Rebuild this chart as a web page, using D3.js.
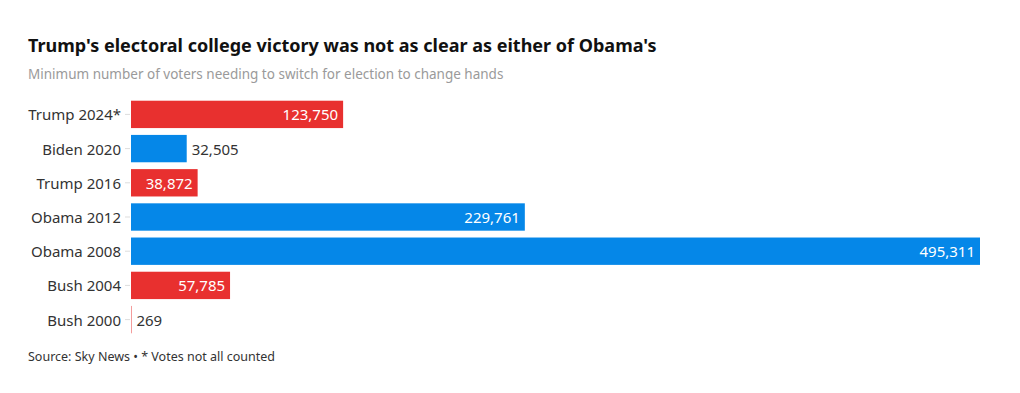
<!DOCTYPE html>
<html>
<head>
<meta charset="utf-8">
<script src="https://d3js.org/d3.v7.min.js"></script>
<style>
  body { margin: 0; background: #fff; font-family: "Noto Sans", "Open Sans", sans-serif; }
</style>
</head>
<body>
<script>
var labels = ["Trump 2024*", "Biden 2020", "Trump 2016", "Obama 2012", "Obama 2008", "Bush 2004", "Bush 2000"];
var values = [123750, 32505, 38872, 229761, 495311, 57785, 269];
var parties = ["rep", "dem", "rep", "dem", "dem", "rep", "rep"];
var partyColours = { rep: "#e8302f", dem: "#0587e8" };

var chartW = 1020, chartH = 393;
var plotLeft = 131, plotRight = 980, plotTop = 99, plotBottom = 335;

var svg = d3.select("body").append("svg")
  .attr("width", chartW)
  .attr("height", chartH);

svg.append("text")
  .attr("x", 28).attr("y", 52)
  .style("font-size", "18px").style("font-weight", "bold").style("fill", "#111")
  .text("Trump's electoral college victory was not as clear as either of Obama's");

svg.append("text")
  .attr("x", 28).attr("y", 79)
  .style("font-size", "13.5px").style("fill", "#9a9a9a")
  .text("Minimum number of voters needing to switch for election to change hands");

var x = d3.scaleLinear().domain([0, d3.max(values)]).range([plotLeft, plotRight]);
var y = d3.scaleBand().domain(labels).range([plotTop, plotBottom]).paddingInner(0.2).paddingOuter(0.05);

var yAxis = svg.append("g")
  .attr("transform", "translate(" + plotLeft + ",0)")
  .call(d3.axisLeft(y).tickSize(6).tickPadding(4));
yAxis.select(".domain").remove();
yAxis.selectAll(".tick line").attr("stroke", "#ddd").attr("x1", -1).attr("x2", -6);
yAxis.selectAll(".tick text")
  .attr("dy", "0.4em")
  .style("font-size", "15px").style("fill", "#333")
  .style("font-family", "\"Noto Sans\", sans-serif");

var rows = labels.map(function (d, i) { return { label: d, value: values[i], party: parties[i] }; });

var bars = svg.append("g").selectAll("g").data(rows).enter().append("g");

bars.append("rect")
  .attr("x", plotLeft)
  .attr("y", function (d) { return y(d.label); })
  .attr("width", function (d) { return Math.max(x(d.value) - plotLeft, 0.8); })
  .attr("height", y.bandwidth())
  .attr("fill", function (d) { return partyColours[d.party]; })
  .attr("opacity", function (d) { return d.value < 1000 ? 0.6 : 1; });

bars.append("text")
  .attr("y", function (d) { return y(d.label) + y.bandwidth() / 2; })
  .attr("dy", "0.4em")
  .style("font-size", "15px")
  .text(function (d) { return d3.format(",")(d.value); })
  .each(function (d) {
    var w = this.getComputedTextLength();
    var bw = x(d.value) - plotLeft;
    var t = d3.select(this);
    if (bw > w + 10) {
      t.attr("x", x(d.value) - 5).attr("text-anchor", "end").style("fill", "#fff");
    } else {
      t.attr("x", x(d.value) + 5).attr("text-anchor", "start").style("fill", "#333");
    }
  });

svg.append("text")
  .attr("x", 28).attr("y", 361)
  .style("font-size", "12.5px").style("fill", "#333")
  .text("Source: Sky News \u2022 * Votes not all counted");
</script>
</body>
</html>
